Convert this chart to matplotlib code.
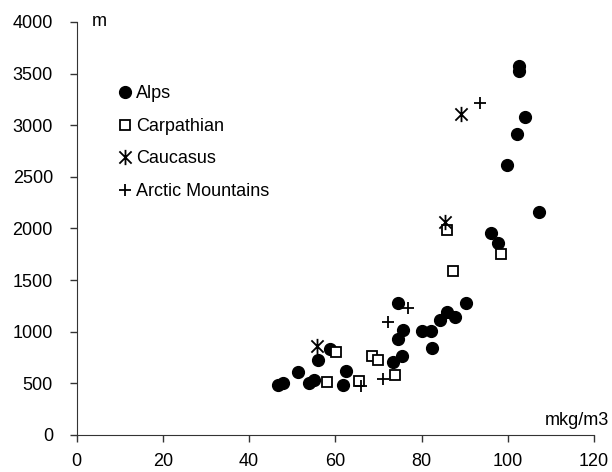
import matplotlib
matplotlib.use("Agg")
import matplotlib.pyplot as plt
from matplotlib.path import Path

plt.rcParams["font.family"] = ["Liberation Sans", "DejaVu Sans"]

# density (mkg/m3) vs altitude (m)
alps_x = [46.8, 47.8, 51.3, 54.0, 55.1, 55.9, 58.8, 61.9, 62.5, 73.5, 75.4, 74.6,
          75.8, 74.6, 80.0, 82.3, 82.4, 84.3, 85.8, 87.8, 90.4, 96.0, 97.8, 99.9,
          102.2, 104.0, 102.6, 102.6, 107.3]
alps_y = [484, 506, 613, 500, 532, 726, 830, 484, 620, 710, 765, 926,
          1013, 1281, 1005, 1005, 839, 1113, 1194, 1145, 1283, 1953, 1862, 2614,
          2920, 3082, 3530, 3570, 2156]

carp_x = [60.2, 58.2, 68.5, 70.0, 73.9, 65.5, 86.0, 87.4, 98.4]
carp_y = [800, 516, 765, 726, 581, 520, 1990, 1590, 1750]

cauc_x = [55.8, 85.5, 89.1]
cauc_y = [860, 2060, 3110]

arctic_x = [66.0, 71.0, 72.2, 76.9, 93.6]
arctic_y = [475, 540, 1090, 1230, 3220]

x_ticks = [0, 20, 40, 60, 80, 100, 120]
y_ticks = [0, 500, 1000, 1500, 2000, 2500, 3000, 3500, 4000]

FONT = 13

# X with a vertical bar, like the spreadsheet asterisk marker
star = Path(
    [(-1, -1), (1, 1), (-1, 1), (1, -1), (0, -1.25), (0, 1.25)],
    [Path.MOVETO, Path.LINETO, Path.MOVETO, Path.LINETO, Path.MOVETO, Path.LINETO],
)

fig = plt.figure(figsize=(6.12, 4.72), dpi=100)
ax = fig.add_axes([0.125, 0.0784, 0.8456, 0.875])

ax.plot(alps_x, alps_y, linestyle="none", marker="o", markersize=8.5,
        color="black", label="Alps")
ax.plot(carp_x, carp_y, linestyle="none", marker="s", markersize=7.5,
        markerfacecolor="white", markeredgecolor="black", markeredgewidth=1.3,
        label="Carpathian")
ax.plot(cauc_x, cauc_y, linestyle="none", marker=star, markersize=11,
        color="black", markeredgewidth=1.3, label="Caucasus")
ax.plot(arctic_x, arctic_y, linestyle="none", marker="+", markersize=9,
        color="black", markeredgewidth=1.3, label="Arctic Mountains")

ax.set_xlim(0, 120)
ax.set_ylim(0, 4000)
ax.set_xticks(x_ticks)
ax.set_yticks(y_ticks)
ax.tick_params(direction="out", length=5, width=1, labelsize=FONT, color="#333333")
ax.tick_params(axis="x", pad=8)
ax.tick_params(axis="y", pad=12)
for side in ("top", "right"):
    ax.spines[side].set_visible(False)
for side in ("left", "bottom"):
    ax.spines[side].set_color("#333333")

ax.text(3.6, 4000, "m", fontsize=FONT, ha="left", va="center")
ax.text(123.5, 145, "mkg/m3", fontsize=FONT, ha="right", va="center", clip_on=False)

ax.legend(loc="upper left", bbox_to_anchor=(0.0693, 0.864), frameon=False,
          fontsize=FONT, handlelength=0.6, handletextpad=0.33, labelspacing=0.86,
          borderaxespad=0)

fig.savefig("out.png", dpi=100)
